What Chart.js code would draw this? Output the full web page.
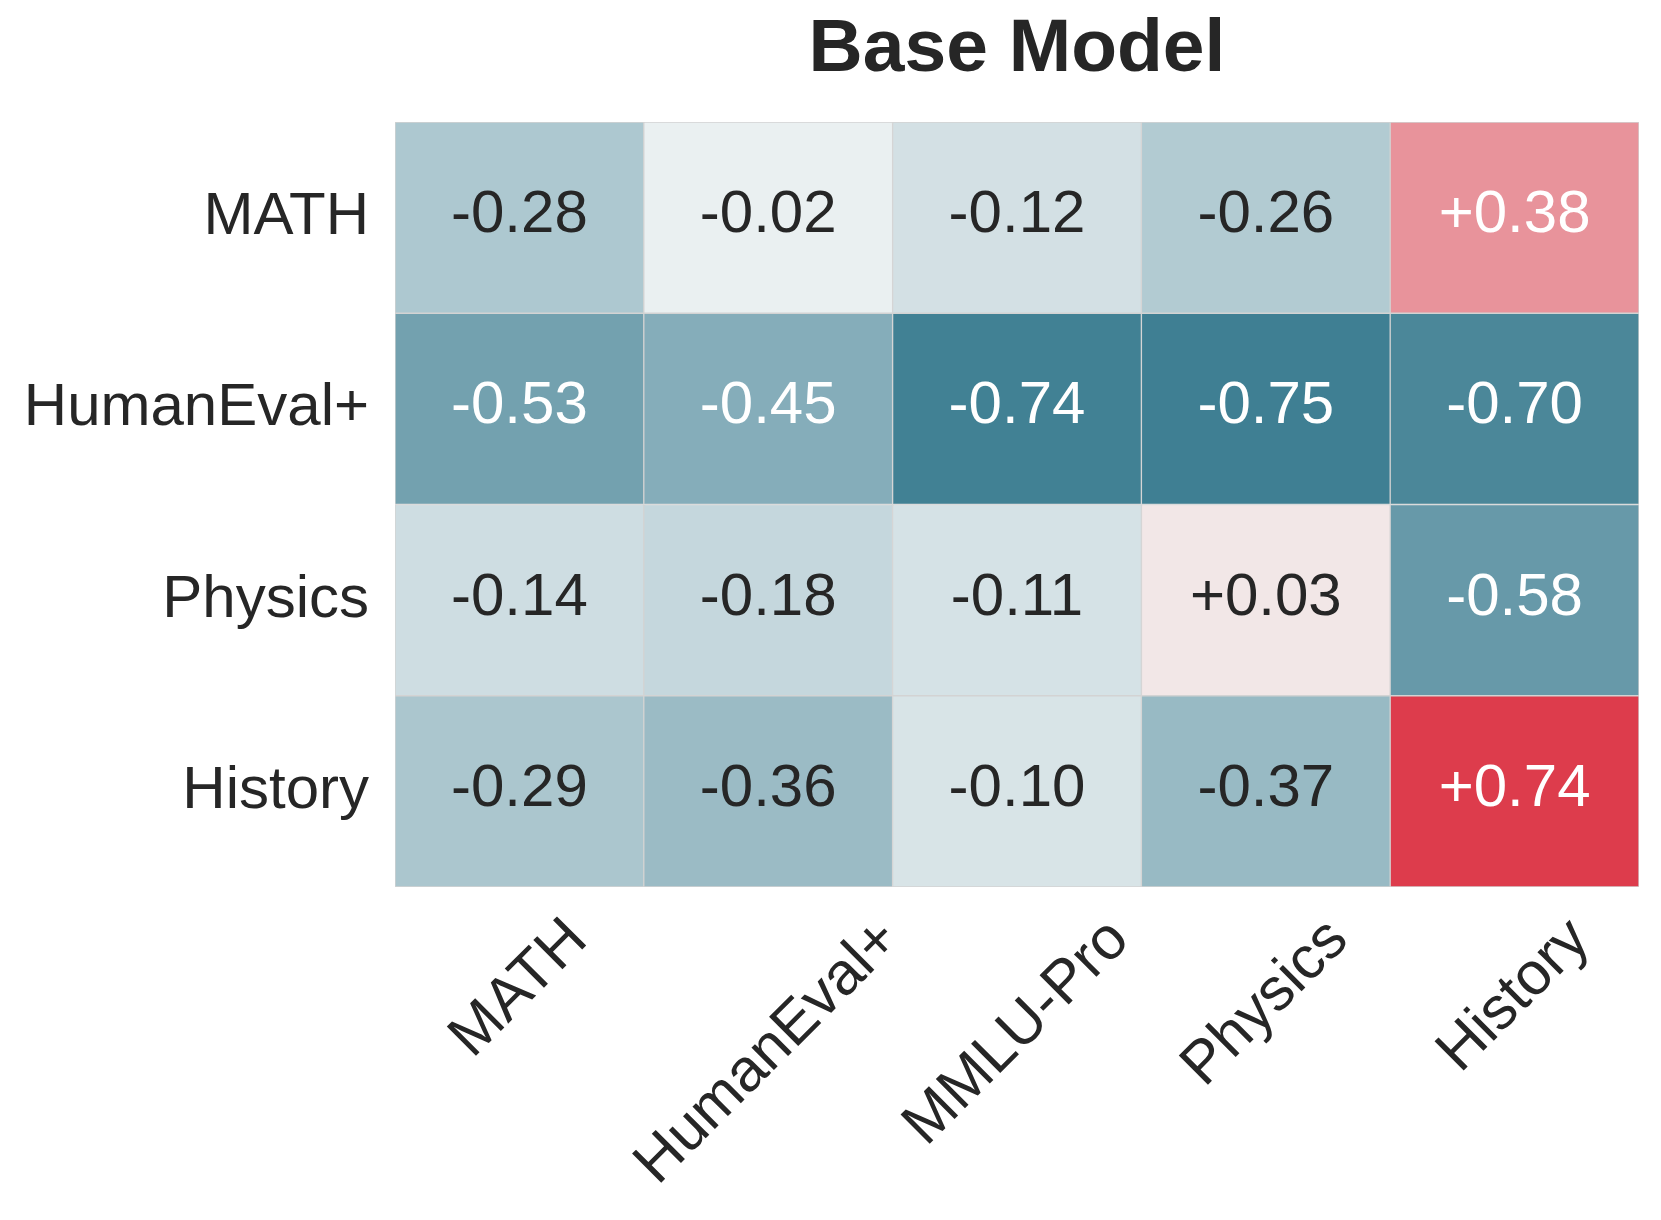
<!DOCTYPE html>
<html>
<head>
<meta charset="utf-8">
<script src="https://cdn.jsdelivr.net/npm/chart.js@4.4.1/dist/chart.umd.min.js"></script>
<style>
  body { margin: 0; background: #ffffff; }
  #wrap { width: 1661px; height: 1220px; }
</style>
</head>
<body>
<div id="wrap"><canvas id="heat" width="1661" height="1220"></canvas></div>
<script>
// heatmap data, rows top to bottom, columns left to right
const rowLabels = ['MATH', 'HumanEval+', 'Physics', 'History'];
const colLabels = ['MATH', 'HumanEval+', 'MMLU-Pro', 'Physics', 'History'];
const mathRow = [-0.28, -0.02, -0.12, -0.26, 0.38];
const humanEvalRow = [-0.53, -0.45, -0.74, -0.75, -0.70];
const physicsRow = [-0.14, -0.18, -0.11, 0.03, -0.58];
const historyRow = [-0.29, -0.36, -0.10, -0.37, 0.74];
const values = [mathRow, humanEvalRow, physicsRow, historyRow];

const vmax = 0.75;
const textDark = '#262626';
const fontFamily = "'Liberation Sans', Arial, Helvetica, sans-serif";

// diverging map: blue-teal <- light -> red
const negEnd = [63, 127, 147], negLight = [239, 243, 244];
const posEnd = [221, 58, 74], posLight = [243, 238, 238];

function mix(a, b, t) {
    return a.map((v, i) => Math.round(v + (b[i] - v) * t));
}
function cellRgb(v) {
    const t = Math.min(Math.abs(v) / vmax, 1);
    return v < 0 ? mix(negLight, negEnd, t) : mix(posLight, posEnd, t);
}
function rgbStr(c) { return 'rgb(' + c[0] + ',' + c[1] + ',' + c[2] + ')'; }
function luminance(c) {
    const lin = c.map(x => {
        x = x / 255;
        return x <= 0.03928 ? x / 12.92 : Math.pow((x + 0.055) / 1.055, 2.4);
    });
    return 0.2126 * lin[0] + 0.7152 * lin[1] + 0.0722 * lin[2];
}
function fmt(v) { return (v > 0 ? '+' : '') + v.toFixed(2); }

const nRows = rowLabels.length;
const datasets = values.map((row, r) => ({
    label: rowLabels[r],
    data: row.map(() => [nRows - 1 - r, nRows - r]),
    backgroundColor: row.map(v => rgbStr(cellRgb(v))),
    borderColor: '#d3d3d3',
    borderWidth: 1,
    borderSkipped: false,
    categoryPercentage: 1.0,
    barPercentage: 1.0
}));

// cell numbers
const cellText = {
    id: 'cellText',
    afterDatasetsDraw(chart) {
        const ctx = chart.ctx;
        ctx.save();
        ctx.font = '60px ' + fontFamily;
        ctx.textAlign = 'center';
        ctx.textBaseline = 'middle';
        chart.data.datasets.forEach((ds, r) => {
            chart.getDatasetMeta(r).data.forEach((bar, c) => {
                const v = values[r][c];
                ctx.fillStyle = luminance(cellRgb(v)) > 0.408 ? textDark : '#ffffff';
                ctx.fillText(fmt(v), bar.x, (bar.y + bar.base) / 2 - 2);
            });
        });
        ctx.restore();
    }
};

// rotated column labels, centred under each column
const xLabels = {
    id: 'xLabels',
    afterDraw(chart) {
        const ctx = chart.ctx;
        const xs = chart.scales.x;
        const size = 60, h = size * 1.15, pad = 19;
        const s = Math.SQRT1_2;
        ctx.save();
        ctx.font = size + 'px ' + fontFamily;
        ctx.fillStyle = textDark;
        ctx.textAlign = 'center';
        ctx.textBaseline = 'middle';
        colLabels.forEach((lab, i) => {
            const w = ctx.measureText(lab).width;
            const boxH = (w + h) * s;
            const x = xs.getPixelForValue(i);
            const y = xs.top + pad + boxH / 2;
            ctx.save();
            ctx.translate(x, y);
            ctx.rotate(-Math.PI / 4);
            ctx.fillText(lab, 0, 0);
            ctx.restore();
        });
        ctx.restore();
    }
};

new Chart(document.getElementById('heat').getContext('2d'), {
    type: 'bar',
    data: { labels: colLabels, datasets: datasets },
    options: {
        responsive: false,
        animation: false,
        devicePixelRatio: 1,
        layout: { padding: { left: 0, right: 22, top: 0, bottom: 0 } },
        scales: {
            x: {
                stacked: true,
                grid: { display: false, drawTicks: false },
                border: { display: false },
                ticks: { display: false },
                afterFit: s => { s.height = 333; }
            },
            y: {
                stacked: false,
                min: 0,
                max: nRows,
                grid: { display: false, drawTicks: false },
                border: { display: false },
                afterBuildTicks: s => {
                    s.ticks = rowLabels.map((_, r) => ({ value: r + 0.5 }));
                },
                afterFit: s => { s.width = 395; },
                ticks: {
                    padding: 26,
                    color: textDark,
                    font: { size: 60, family: fontFamily },
                    callback: v => rowLabels[nRows - 1 - Math.floor(v)]
                }
            }
        },
        plugins: {
            legend: { display: false },
            tooltip: { enabled: false },
            title: {
                display: true,
                text: 'Base Model',
                fullSize: false,
                color: textDark,
                font: { size: 75, weight: 'bold', family: fontFamily },
                padding: { top: 5, bottom: 27 }
            }
        }
    },
    plugins: [cellText, xLabels]
});
</script>
</body>
</html>
